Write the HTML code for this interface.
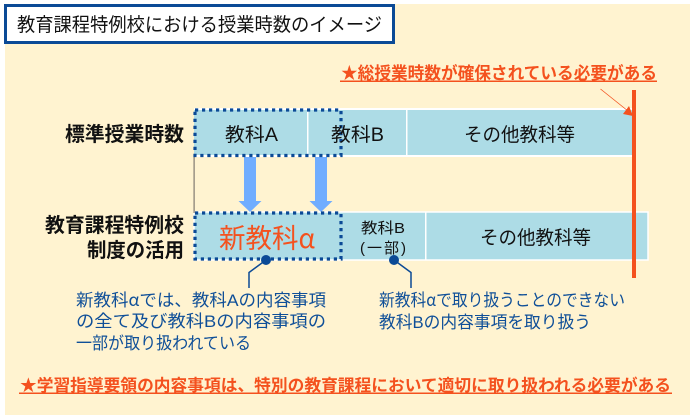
<!DOCTYPE html>
<html lang="ja"><head><meta charset="utf-8">
<style>
html,body{margin:0;padding:0;background:#fff}
svg{display:block}
text{font-family:"Liberation Sans","Noto Sans CJK JP",sans-serif;}
.b{font-weight:700}
.cjk{font-family:"Noto Sans CJK JP",sans-serif}
</style></head><body>
<svg width="690" height="417" viewBox="0 0 690 417" xmlns="http://www.w3.org/2000/svg">
<rect x="0" y="0" width="690" height="417" fill="#fff"/>
<rect x="5" y="4" width="685" height="411" fill="#fff3d0"/>
<rect x="5.500" y="5.500" width="388" height="37" fill="#fff" stroke="#0b4a96" stroke-width="3"/>
<text x="17" y="31" font-size="19" fill="#111" textLength="365" lengthAdjust="spacingAndGlyphs">教育課程特例校における授業時数のイメージ</text>

<text class="b" x="341" y="79" font-size="17" fill="#f4511e" textLength="316" lengthAdjust="spacingAndGlyphs">★総授業時数が確保されている必要がある</text>
<rect x="340" y="80.500" width="317" height="1.500" fill="#f4511e"/>

<!-- top bar -->
<rect x="194" y="109" width="440" height="47" fill="#addce6"/>
<rect x="194" y="108" width="440" height="2" fill="#fff"/>
<rect x="194" y="155" width="440" height="2" fill="#fff"/>
<rect x="307" y="109" width="1.500" height="47" fill="#fff"/>
<rect x="406" y="109" width="1.500" height="47" fill="#fff"/>

<!-- lower bar -->
<rect x="194" y="212" width="454" height="48" fill="#addce6" stroke="#fff" stroke-width="1.500"/>
<rect x="425" y="212" width="1.500" height="48" fill="#fff"/>

<!-- gray line -->
<rect x="193.500" y="156" width="1.200" height="57" fill="#807a70"/>

<!-- arrows -->
<path d="M244 157H256V201H261.500L250 212L238.500 201H244Z" fill="#70adff"/>
<path d="M315 157H327V201H332.500L321 212L309.500 201H315Z" fill="#70adff"/>

<!-- red line -->
<rect x="632" y="90" width="4" height="188" fill="#f4511e"/>
<path d="M600.500 89L628 111" stroke="#f4511e" stroke-width="0.800" fill="none"/>
<path d="M633 116L623 114L629 106Z" fill="#f4511e"/>

<!-- dotted boxes -->
<rect x="195" y="110" width="146" height="45.500" fill="none" stroke="#0b4a96" stroke-width="3.200" stroke-dasharray="3.200 3.800"/>
<rect x="195" y="213" width="146" height="46" fill="none" stroke="#0b4a96" stroke-width="3.200" stroke-dasharray="3.200 3.800"/>

<!-- labels -->
<text class="b" x="65" y="141" font-size="20" fill="#111" textLength="119" lengthAdjust="spacingAndGlyphs">標準授業時数</text>
<text class="b" x="45" y="232" font-size="20" fill="#111" textLength="139" lengthAdjust="spacingAndGlyphs">教育課程特例校</text>
<text class="b" x="87" y="257" font-size="20" fill="#111" textLength="97" lengthAdjust="spacingAndGlyphs">制度の活用</text>

<text x="225" y="141" font-size="19" fill="#111" textLength="53" lengthAdjust="spacingAndGlyphs">教科A</text>
<text x="331" y="141" font-size="19" fill="#111" textLength="53" lengthAdjust="spacingAndGlyphs">教科B</text>
<text x="464" y="141" font-size="19" fill="#111" textLength="111" lengthAdjust="spacingAndGlyphs">その他教科等</text>
<text x="219" y="248" font-size="27" fill="#f4511e" textLength="96" lengthAdjust="spacingAndGlyphs">新教科<tspan class="cjk">α</tspan></text>
<text x="361" y="233" font-size="15" fill="#111" textLength="44" lengthAdjust="spacingAndGlyphs">教科B</text>
<text x="360" y="253" font-size="15" fill="#111" textLength="46" lengthAdjust="spacing">(一部)</text>
<text x="480" y="244" font-size="19" fill="#111" textLength="111" lengthAdjust="spacingAndGlyphs">その他教科等</text>

<!-- callouts -->
<circle cx="266" cy="260" r="5" fill="#0b4a96"/>
<path d="M266 260L249 272.500V288" stroke="#0b4a96" stroke-width="1.500" fill="none"/>
<circle cx="394" cy="260" r="5" fill="#0b4a96"/>
<path d="M394 260L411 272.500V288" stroke="#0b4a96" stroke-width="1.500" fill="none"/>

<g font-size="17" fill="#0f4f98">
<text x="76" y="306" textLength="250" lengthAdjust="spacingAndGlyphs">新教科<tspan class="cjk">α</tspan>では、教科Aの内容事項</text>
<text x="76" y="327" textLength="250" lengthAdjust="spacingAndGlyphs">の全て及び教科Bの内容事項の</text>
<text x="76" y="349" textLength="175" lengthAdjust="spacingAndGlyphs">一部が取り扱われている</text>
<text x="379" y="306" textLength="246" lengthAdjust="spacingAndGlyphs">新教科<tspan class="cjk">α</tspan>で取り扱うことのできない</text>
<text x="379" y="328" textLength="212" lengthAdjust="spacingAndGlyphs">教科Bの内容事項を取り扱う</text>
</g>

<text class="b" x="20" y="391" font-size="16.500" fill="#f4511e" textLength="651" lengthAdjust="spacingAndGlyphs">★学習指導要領の内容事項は、特別の教育課程において適切に取り扱われる必要がある</text>
<rect x="19" y="392.500" width="653" height="1.500" fill="#f4511e"/>
</svg>
</body></html>
